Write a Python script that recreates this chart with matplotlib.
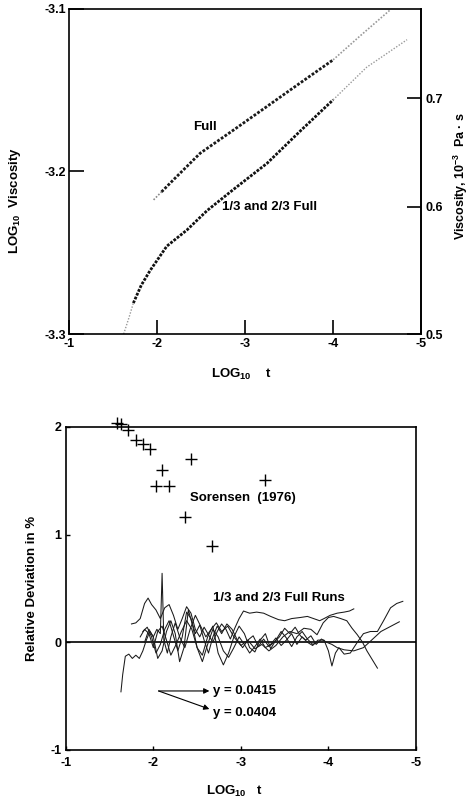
import matplotlib
matplotlib.use("Agg")
import matplotlib.pyplot as plt
import numpy as np

plt.rcParams['font.family'] = ['Liberation Sans', 'DejaVu Sans']
plt.rcParams['font.weight'] = 'bold'
plt.rcParams['mathtext.default'] = 'regular'

# --- top panel: log10 viscosity vs log10 t ---
full_x = [-1.96, -2.05, -2.20, -2.49, -2.87, -3.25, -3.60, -4.00, -4.30, -4.65]
full_y = [-3.2175, -3.2126, -3.2044, -3.1888, -3.1745, -3.160, -3.1466, -3.1314, -3.117, -3.1006]

part_x = [-1.62, -1.68, -1.73, -1.82, -1.92, -2.11, -2.34, -2.57, -2.87, -3.25, -3.63, -4.00, -4.38, -4.84]
part_y = [-3.300, -3.290, -3.281, -3.270, -3.261, -3.246, -3.236, -3.224, -3.211, -3.195, -3.175, -3.156, -3.136, -3.119]

top_xticks = [-1, -2, -3, -4, -5]
top_yticks = [-3.3, -3.2, -3.1]
visc_ticks = [0.5, 0.6, 0.7]

# --- bottom panel: relative deviation ---
sor_x = [-1.588, -1.630, -1.714, -1.802, -1.886, -1.962, -2.096, -2.432, -2.027, -2.183, -2.363, -2.669, -3.28]
sor_y = [2.035, 2.028, 1.966, 1.879, 1.841, 1.794, 1.598, 1.698, 1.449, 1.449, 1.162, 0.897, 1.505]

run1_x = [-1.75, -1.80, -1.85, -1.90, -1.94, -1.98, -2.03, -2.08, -2.13, -2.18, -2.23, -2.28, -2.33, -2.38,
          -2.43, -2.48, -2.53, -2.58, -2.63, -2.68, -2.73, -2.78, -2.83, -2.88, -2.93, -2.98, -3.03, -3.10,
          -3.18, -3.26, -3.34, -3.43, -3.50, -3.58, -3.68, -3.76, -3.83, -3.90, -3.95, -4.02, -4.10, -4.18,
          -4.24, -4.29]
run1_y = [0.17, 0.18, 0.22, 0.36, 0.41, 0.35, 0.30, 0.22, 0.32, 0.35, 0.25, 0.12, 0.22, 0.33,
          0.27, 0.12, 0.05, 0.14, 0.07, 0.00, 0.10, 0.17, 0.12, 0.03, 0.13, 0.22, 0.29, 0.27,
          0.28, 0.27, 0.24, 0.21, 0.20, 0.22, 0.23, 0.24, 0.22, 0.20, 0.22, 0.25, 0.27, 0.28,
          0.29, 0.31]

run2_x = [-1.63, -1.65, -1.68, -1.72, -1.76, -1.80, -1.84, -1.88, -1.92, -1.96, -2.00, -2.04, -2.08, -2.10,
          -2.12, -2.16, -2.20, -2.25, -2.30, -2.36, -2.42, -2.48, -2.54, -2.60, -2.66, -2.72, -2.78, -2.85,
          -2.92, -3.00, -3.08, -3.16, -3.24, -3.32, -3.40, -3.48, -3.56, -3.64, -3.72, -3.80, -3.87, -3.94,
          -4.00, -4.06, -4.14, -4.21, -4.27, -4.33, -4.39, -4.44, -4.50, -4.56]
run2_y = [-0.46, -0.30, -0.13, -0.11, -0.15, -0.12, -0.15, -0.08, 0.02, 0.10, 0.05, 0.12, 0.08, 0.64,
          0.02, -0.10, 0.05, 0.18, 0.05, -0.05, 0.12, 0.25, 0.15, 0.05, 0.12, 0.18, 0.10, 0.15,
          0.05, -0.03, 0.02, -0.06, -0.02, -0.08, -0.03, 0.05, 0.10, 0.08, 0.13, 0.12, 0.07, 0.18,
          0.23, 0.24, 0.22, 0.20, 0.13, 0.07, 0.00, -0.08, -0.16, -0.24]

run3_x = [-1.85, -1.90, -1.95, -2.00, -2.05, -2.10, -2.15, -2.20, -2.26, -2.32, -2.38, -2.44, -2.50, -2.56,
          -2.62, -2.68, -2.74, -2.80, -2.86, -2.92, -2.98, -3.04, -3.10, -3.16, -3.22, -3.28, -3.34, -3.40,
          -3.46, -3.52, -3.58, -3.64, -3.70, -3.76, -3.82, -3.88, -3.95, -4.00, -4.04, -4.08, -4.12, -4.18,
          -4.25, -4.33, -4.40, -4.48, -4.56, -4.63, -4.71, -4.78, -4.85]
run3_y = [0.05, 0.12, 0.08, -0.05, 0.10, 0.15, 0.02, -0.12, -0.02, 0.10, 0.20, 0.12, -0.05, -0.18,
          -0.02, 0.12, 0.05, -0.08, -0.14, -0.05, 0.05, -0.02, -0.10, -0.04, 0.03, -0.05, -0.02, 0.04,
          -0.03, 0.02, 0.08, -0.02, 0.05, 0.00, -0.03, 0.02, 0.02, -0.08, -0.22, -0.10, -0.05, -0.11,
          -0.10, 0.00, 0.08, 0.10, 0.10, 0.20, 0.32, 0.36, 0.38]

run4_x = [-1.88, -1.93, -1.98, -2.03, -2.08, -2.13, -2.18, -2.23, -2.28, -2.33, -2.38, -2.43, -2.48, -2.53,
          -2.58, -2.63, -2.68, -2.73, -2.78, -2.84, -2.90, -2.96, -3.02, -3.08, -3.14, -3.20, -3.26, -3.32,
          -3.38, -3.44, -3.50, -3.56, -3.62, -3.68, -3.74, -3.80, -3.86, -3.92, -3.98, -4.04, -4.10, -4.18,
          -4.29, -4.40, -4.48, -4.60, -4.67, -4.74, -4.81]
run4_y = [0.10, 0.14, 0.05, -0.10, -0.02, 0.12, 0.20, 0.06, -0.08, 0.05, 0.28, 0.22, 0.08, 0.16,
          0.02, -0.10, 0.05, 0.15, 0.08, 0.17, 0.12, 0.02, -0.05, 0.02, 0.06, -0.04, 0.03, -0.04,
          0.00, 0.05, 0.13, 0.08, 0.14, 0.06, 0.02, 0.06, -0.02, 0.03, 0.00, -0.02, -0.05, -0.07,
          -0.08, -0.05, 0.01, 0.10, 0.13, 0.16, 0.19]

run5_x = [-1.90, -1.95, -2.00, -2.05, -2.10, -2.15, -2.20, -2.25, -2.30, -2.35, -2.40, -2.45, -2.50, -2.56,
          -2.62, -2.68, -2.74, -2.80, -2.86, -2.92, -2.98, -3.04, -3.10, -3.16, -3.22, -3.28, -3.34, -3.40,
          -3.46, -3.52, -3.58, -3.64, -3.70, -3.76, -3.82, -3.88]
run5_y = [0.00, 0.12, 0.05, -0.15, -0.08, 0.10, 0.20, 0.08, -0.18, -0.05, 0.30, 0.15, -0.05, -0.12,
          0.05, 0.15, -0.10, -0.21, -0.10, 0.05, 0.15, 0.08, -0.05, -0.09, 0.02, 0.08, -0.06, 0.02,
          0.10, 0.04, -0.04, 0.05, 0.10, 0.03, -0.02, 0.00]

runs = [(run1_x, run1_y), (run2_x, run2_y), (run3_x, run3_y), (run4_x, run4_y), (run5_x, run5_y)]
bot_xticks = [-1, -2, -3, -4, -5]
bot_yticks = [-1, 0, 1, 2]

fig = plt.figure(figsize=(4.7, 8), dpi=100)

# top panel
ax1 = fig.add_axes([0.147, 0.5825, 0.749, 0.4065])
ax1.plot(full_x[1:-2], full_y[1:-2], color='#1a1a1a', lw=2.0, ls=(0, (1, 0.6)))
ax1.plot(full_x[:2], full_y[:2], color='#888888', lw=1.2, ls=(0, (1, 1)))
ax1.plot(full_x[-3:], full_y[-3:], color='#999999', lw=1.2, ls=(0, (1, 1)))
ax1.plot(part_x[2:-2], part_y[2:-2], color='#111111', lw=2.0, ls=(0, (1, 0.5)))
ax1.plot(part_x[:3], part_y[:3], color='#999999', lw=1.0, ls=(0, (1, 1.2)))
ax1.plot(part_x[-3:], part_y[-3:], color='#999999', lw=1.0, ls=(0, (1, 1.2)))
ax1.set_xlim(-1, -5)
ax1.set_ylim(-3.3, -3.1)
ax1.set_xticks(top_xticks)
ax1.set_xticklabels([str(v) for v in top_xticks])
ax1.set_yticks(top_yticks)
ax1.set_yticklabels(['-3.3', '-3.2', '-3.1'])
ax1.tick_params(axis='x', direction='in', length=10, width=1.2, labelsize=9, pad=3)
ax1.tick_params(axis='y', direction='in', length=11, width=1.2, labelsize=9, pad=2)
for s in ax1.spines.values():
    s.set_linewidth(1.2)
ax1.text(-2.41, -3.173, 'Full', fontsize=9.5, fontweight='bold', va='center')
ax1.text(-2.74, -3.222, '1/3 and 2/3 Full', fontsize=9.5, fontweight='bold', va='center')
ax1.set_xlabel('LOG$_{10}$    t', fontsize=9.5, fontweight='bold')
ax1.xaxis.set_label_coords(0.49, -0.10)
ax1.set_ylabel('LOG$_{10}$  Viscosity', fontsize=9.5, fontweight='bold')
ax1.yaxis.set_label_coords(-0.13, 0.41)

# right axis: viscosity in mPa s; lowest tick sits on the bottom spine
visc_min = 1000 * 10 ** -3.3
sec = ax1.secondary_yaxis('right', functions=(lambda y: 1000 * 10 ** y,
                                              lambda v: np.log10(np.clip(v, 1e-9, None) / 1000)))
sec.set_yticks([max(v, visc_min) for v in visc_ticks])
sec.set_yticklabels([f'{v:.1f}' for v in visc_ticks])
sec.tick_params(direction='in', length=10, width=1.2, labelsize=9, pad=3)
sec.spines['right'].set_linewidth(1.2)
fig.text(0.980, 0.78, 'Viscosity, 10$^{-3}$  Pa · s', rotation=90, ha='center', va='center',
         fontsize=9, fontweight='bold')

# bottom panel
ax2 = fig.add_axes([0.140, 0.0625, 0.745, 0.404])
ax2.axhline(0, color='black', lw=1.2)
for rx, ry in runs:
    ax2.plot(rx, ry, color='#1a1a1a', lw=0.75)
ax2.plot(sor_x, sor_y, '+', color='black', ms=9, mew=1.0, clip_on=False)
ax2.set_xlim(-1, -5)
ax2.set_ylim(-1, 2)
ax2.set_xticks(bot_xticks)
ax2.set_xticklabels([str(v) for v in bot_xticks])
ax2.set_yticks(bot_yticks)
ax2.set_yticklabels([str(v) for v in bot_yticks])
ax2.tick_params(direction='in', length=3, width=1.0, labelsize=9)
ax2.tick_params(axis='x', pad=5)
ax2.tick_params(axis='y', pad=3)
for s in ax2.spines.values():
    s.set_linewidth(1.2)
ax2.text(-2.42, 1.34, 'Sorensen  (1976)', fontsize=9.5, fontweight='bold', va='center')
ax2.text(-2.68, 0.41, '1/3 and 2/3 Full Runs', fontsize=9.5, fontweight='bold', va='center')
ax2.annotate('', xy=(-2.64, -0.452), xytext=(-2.06, -0.452),
             arrowprops=dict(arrowstyle='-|>', lw=0.8, color='black', mutation_scale=8, shrinkA=0, shrinkB=0))
ax2.annotate('', xy=(-2.64, -0.62), xytext=(-2.06, -0.452),
             arrowprops=dict(arrowstyle='-|>', lw=0.8, color='black', mutation_scale=8, shrinkA=0, shrinkB=0))
ax2.text(-2.68, -0.452, 'y = 0.0415', fontsize=9.5, fontweight='bold', va='center')
ax2.text(-2.68, -0.66, 'y = 0.0404', fontsize=9.5, fontweight='bold', va='center')
ax2.set_xlabel('LOG$_{10}$   t', fontsize=9.5, fontweight='bold')
ax2.xaxis.set_label_coords(0.48, -0.105)
ax2.set_ylabel('Relative Deviation in %', fontsize=9.5, fontweight='bold')
ax2.yaxis.set_label_coords(-0.08, 0.5)

fig.savefig('out.png', dpi=100)
